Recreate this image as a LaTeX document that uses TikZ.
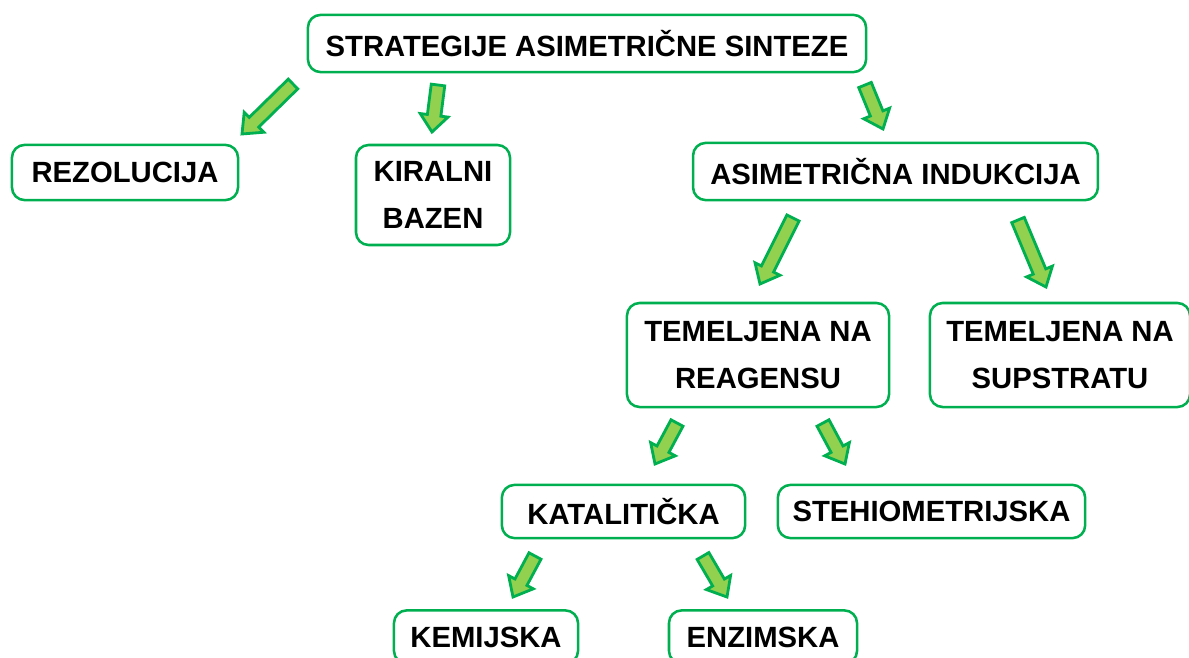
\documentclass[tikz,border=0pt]{standalone}
\usepackage{fontspec}
\setmainfont{Liberation Sans}
\usepackage{tikz}
\usetikzlibrary{calc,positioning}
\definecolor{boxgreen}{HTML}{00B050}
\definecolor{arrowfill}{HTML}{92D050}
\tikzset{
  box/.style={draw=boxgreen, line width=1.8pt, rounded corners=9pt, fill=white,
    align=center, inner sep=0pt, font=\bfseries\fontsize{20.8}{34}\selectfont},
  fatarrow/.style={draw=boxgreen, fill=arrowfill, line width=2pt, line join=miter}
}
% block arrow from tail #1 to tip #2
\newcommand{\fatarrow}[2]{%
  \coordinate (h) at ($(#2)!0.42cm!(#1)$);
  \draw[fatarrow] ($(#1)!0.17cm!90:(#2)$) -- ($(h)!0.17cm!90:(#2)$)
    -- ($(h)!0.35cm!90:(#2)$) -- (#2) -- ($(h)!0.35cm!-90:(#2)$)
    -- ($(h)!0.17cm!-90:(#2)$) -- ($(#1)!0.17cm!-90:(#2)$) -- cycle;}

\begin{document}
\begin{tikzpicture}[x=0.025cm, y=-0.025cm]
 \clip (0,0) rectangle (1189,657);
 \useasboundingbox (0,0) rectangle (1189,657);
% nodes
 \node[box, minimum width=13.95cm, minimum height=1.43cm] (strat) at (587,43.5) {STRATEGIJE ASIMETRIČNE SINTEZE};
 \node[box, minimum width=5.65cm, minimum height=1.38cm] (rez) at (125,172.5) {REZOLUCIJA};
 \node[box, minimum width=3.85cm, minimum height=2.5cm] (kir) at (433,195) {KIRALNI\\BAZEN};
 \node[box, minimum width=10.12cm, minimum height=1.43cm] (ind) at (895.5,171.5) {ASIMETRIČNA INDUKCIJA};
 \node[box, minimum width=6.55cm, minimum height=2.6cm] (reag) at (758,355) {TEMELJENA NA\\REAGENSU};
 \node[box, minimum width=6.5cm, minimum height=2.6cm] (sup) at (1060,355) {TEMELJENA NA\\SUPSTRATU};
 \node[box, minimum width=6.08cm, minimum height=1.33cm] (kat) at (623.5,511.5) {KATALITIČKA};
 \node[box, minimum width=7.68cm, minimum height=1.33cm] (steh) at (931.5,511.5) {STEHIOMETRIJSKA};
 \node[box, minimum width=4.6cm, minimum height=1.33cm] (kem) at (486,637) {KEMIJSKA};
 \node[box, minimum width=4.7cm, minimum height=1.33cm] (enz) at (763,637) {ENZIMSKA};

% arrow ends
 \coordinate (a1) at (293,84);   \coordinate (b1) at (242,134);
 \coordinate (a2) at (438,85);   \coordinate (b2) at (432,132);
 \coordinate (a3) at (865,85);   \coordinate (b3) at (883,129);
 \coordinate (a4) at (793,218);  \coordinate (b4) at (760,284);
 \coordinate (a5) at (1018,220); \coordinate (b5) at (1046,287);
 \coordinate (a6) at (677,423);  \coordinate (b6) at (655,464);
 \coordinate (a7) at (823,423);  \coordinate (b7) at (845,464);
 \coordinate (a8) at (535,556);  \coordinate (b8) at (513,597);
 \coordinate (a9) at (703,556);  \coordinate (b9) at (727,597);

% arrows
 \fatarrow{a1}{b1}
 \fatarrow{a2}{b2}
 \fatarrow{a3}{b3}
 \fatarrow{a4}{b4}
 \fatarrow{a5}{b5}
 \fatarrow{a6}{b6}
 \fatarrow{a7}{b7}
 \fatarrow{a8}{b8}
 \fatarrow{a9}{b9}
\end{tikzpicture}
\end{document}
